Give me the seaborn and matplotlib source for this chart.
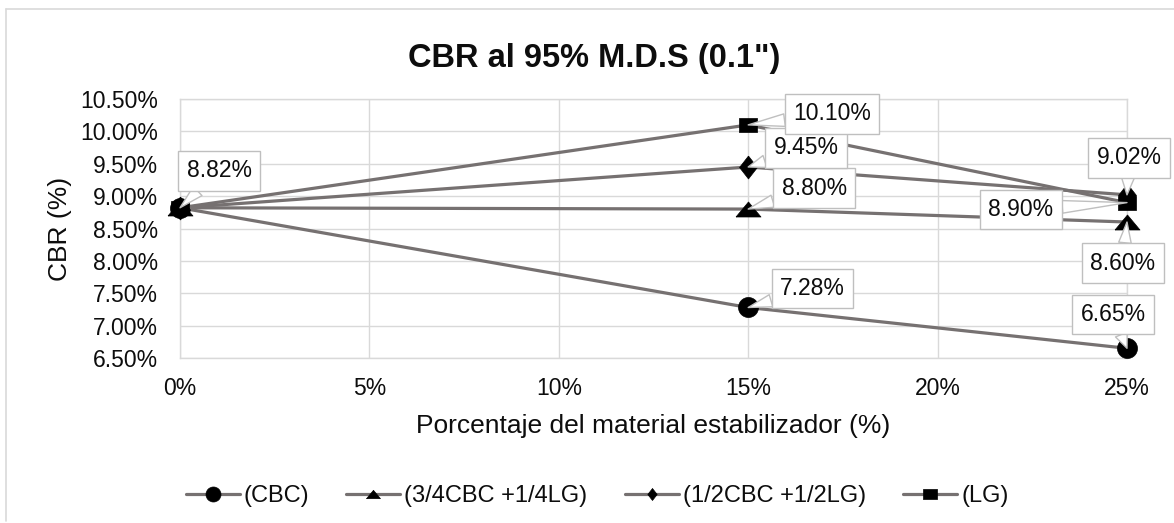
import matplotlib
matplotlib.use("Agg")
import matplotlib.pyplot as plt
from matplotlib.lines import Line2D
from matplotlib.ticker import FuncFormatter
import seaborn as sns

# ---- data -------------------------------------------------------------
pct_stabilizer = [0, 15, 25]                      # % of stabilising material
series_names = ["(CBC)", "(3/4CBC +1/4LG)", "(1/2CBC +1/2LG)", "(LG)"]
cbr_cbc = [8.82, 7.28, 6.65]
cbr_34cbc_14lg = [8.82, 8.80, 8.60]
cbr_12cbc_12lg = [8.82, 9.45, 9.02]
cbr_lg = [8.82, 10.10, 8.90]
x_ticks = [0, 5, 10, 15, 20, 25]
y_ticks = [6.5, 7.0, 7.5, 8.0, 8.5, 9.0, 9.5, 10.0, 10.5]

title = "CBR al 95% M.D.S (0.1\")"
x_label = "Porcentaje del material estabilizador (%)"
y_label = "CBR (%)"

# ---- styling ------------------------------------------------------------
W, H, DPI = 1174, 523, 100
LINE = "#767171"
GRID = "#d9d9d9"
TXT = "#0d0d0d"

sns.set_theme(style="white")
plt.rcParams["font.family"] = ["Liberation Sans", "DejaVu Sans"]

# marker shapes (Excel-like proportions)
m_circle = "o"
m_tri = [(-1, -0.6), (1, -0.6), (0, 0.6), (-1, -0.6)]
m_diam = [(0, 1), (0.78, 0), (0, -1), (-0.78, 0), (0, 1)]
m_sq = [(-1, -0.82), (1, -0.82), (1, 0.82), (-1, 0.82), (-1, -0.82)]

series_vals = [cbr_cbc, cbr_34cbc_14lg, cbr_12cbc_12lg, cbr_lg]
markers = [m_circle, m_tri, m_diam, m_sq]
plot_ms = [14.4, 18, 16.5, 12.5]
legend_ms = [10.8, 10, 8.6, 9.4]

# callout offsets (pixels) per series and point; None = no callout
callouts = [
    [(39, 37), (64, 19), (-14, 34)],
    [None, (66, 21), (-4, -41)],
    [None, (58, 19), (2, 37)],
    [None, (84, 11), (-106, -7)],
]

fig = plt.figure(figsize=(W / DPI, H / DPI), dpi=DPI)
fig.patch.set_facecolor("white")
ax = fig.add_axes([180 / W, 1 - 358 / H, (1127 - 180) / W, (358 - 99) / H])

for vals, mk, ms in zip(series_vals, markers, plot_ms):
    sns.lineplot(x=pct_stabilizer, y=vals, ax=ax, color=LINE, linewidth=2.3,
                 marker=mk, markersize=ms, markerfacecolor="black",
                 markeredgecolor="black", markeredgewidth=0.5,
                 clip_on=False, zorder=3, legend=False)

for vals, offs in zip(series_vals, callouts):
    for xv, yv, off in zip(pct_stabilizer, vals, offs):
        if off is None:
            continue
        ax.annotate(f"{yv:.2f}%", xy=(xv, yv), xytext=off,
                    textcoords="offset pixels", ha="center", va="center",
                    fontsize=16.5, color=TXT, zorder=6, annotation_clip=False,
                    bbox=dict(boxstyle="square,pad=0.36", fc="white",
                              ec="#bfbfbf", lw=1.0),
                    arrowprops=dict(arrowstyle="wedge,tail_width=0.55",
                                    fc="white", ec="#bfbfbf", lw=1.0,
                                    shrinkA=0, shrinkB=0))

ax.set_xlim(0, 25)
ax.set_ylim(6.5, 10.5)
ax.set_xticks(x_ticks)
ax.set_yticks(y_ticks)
ax.xaxis.set_major_formatter(FuncFormatter(lambda v, p: f"{v:.0f}%"))
ax.yaxis.set_major_formatter(FuncFormatter(lambda v, p: f"{v:.2f}%"))
ax.tick_params(axis="both", length=0, labelsize=16.5, labelcolor=TXT)
ax.tick_params(axis="x", pad=13.7)
ax.tick_params(axis="y", pad=15.8)
ax.grid(True, color=GRID, linewidth=1.0)
ax.set_axisbelow(True)
for sp in ax.spines.values():
    sp.set_color(GRID)
    sp.set_linewidth(1.0)

ax.set_xlabel(x_label, fontsize=19, color=TXT)
ax.set_ylabel(y_label, fontsize=19, color=TXT)
ax.xaxis.set_label_coords(0.5, (358 - 414) / 259)
ax.yaxis.set_label_coords((72 - 180) / 947, 0.5)

fig.text(594 / W, 1 - 67 / H, title, ha="center", va="baseline",
         fontsize=23.5, fontweight="bold", color=TXT)

handles = [Line2D([], [], color=LINE, linewidth=2.3, marker=mk, markersize=ms,
                  markerfacecolor="black", markeredgecolor="black",
                  markeredgewidth=0.5)
           for mk, ms in zip(markers, legend_ms)]
fig.legend(handles, series_names, loc="center",
           bbox_to_anchor=(597 / W, 1 - 496 / H), ncol=4, frameon=False,
           fontsize=17, handlelength=2.29, handletextpad=0.17,
           columnspacing=1.57, borderpad=0, labelcolor=TXT)

# chart-area frame
fig.add_artist(Line2D([6 / W, 6 / W], [1 - 9 / H, 1 - 521 / H],
                      transform=fig.transFigure, color=GRID, lw=1.2))
fig.add_artist(Line2D([6 / W, 1.0], [1 - 9 / H, 1 - 9 / H],
                      transform=fig.transFigure, color=GRID, lw=1.2))

fig.savefig("out.png", dpi=DPI, facecolor="white")
